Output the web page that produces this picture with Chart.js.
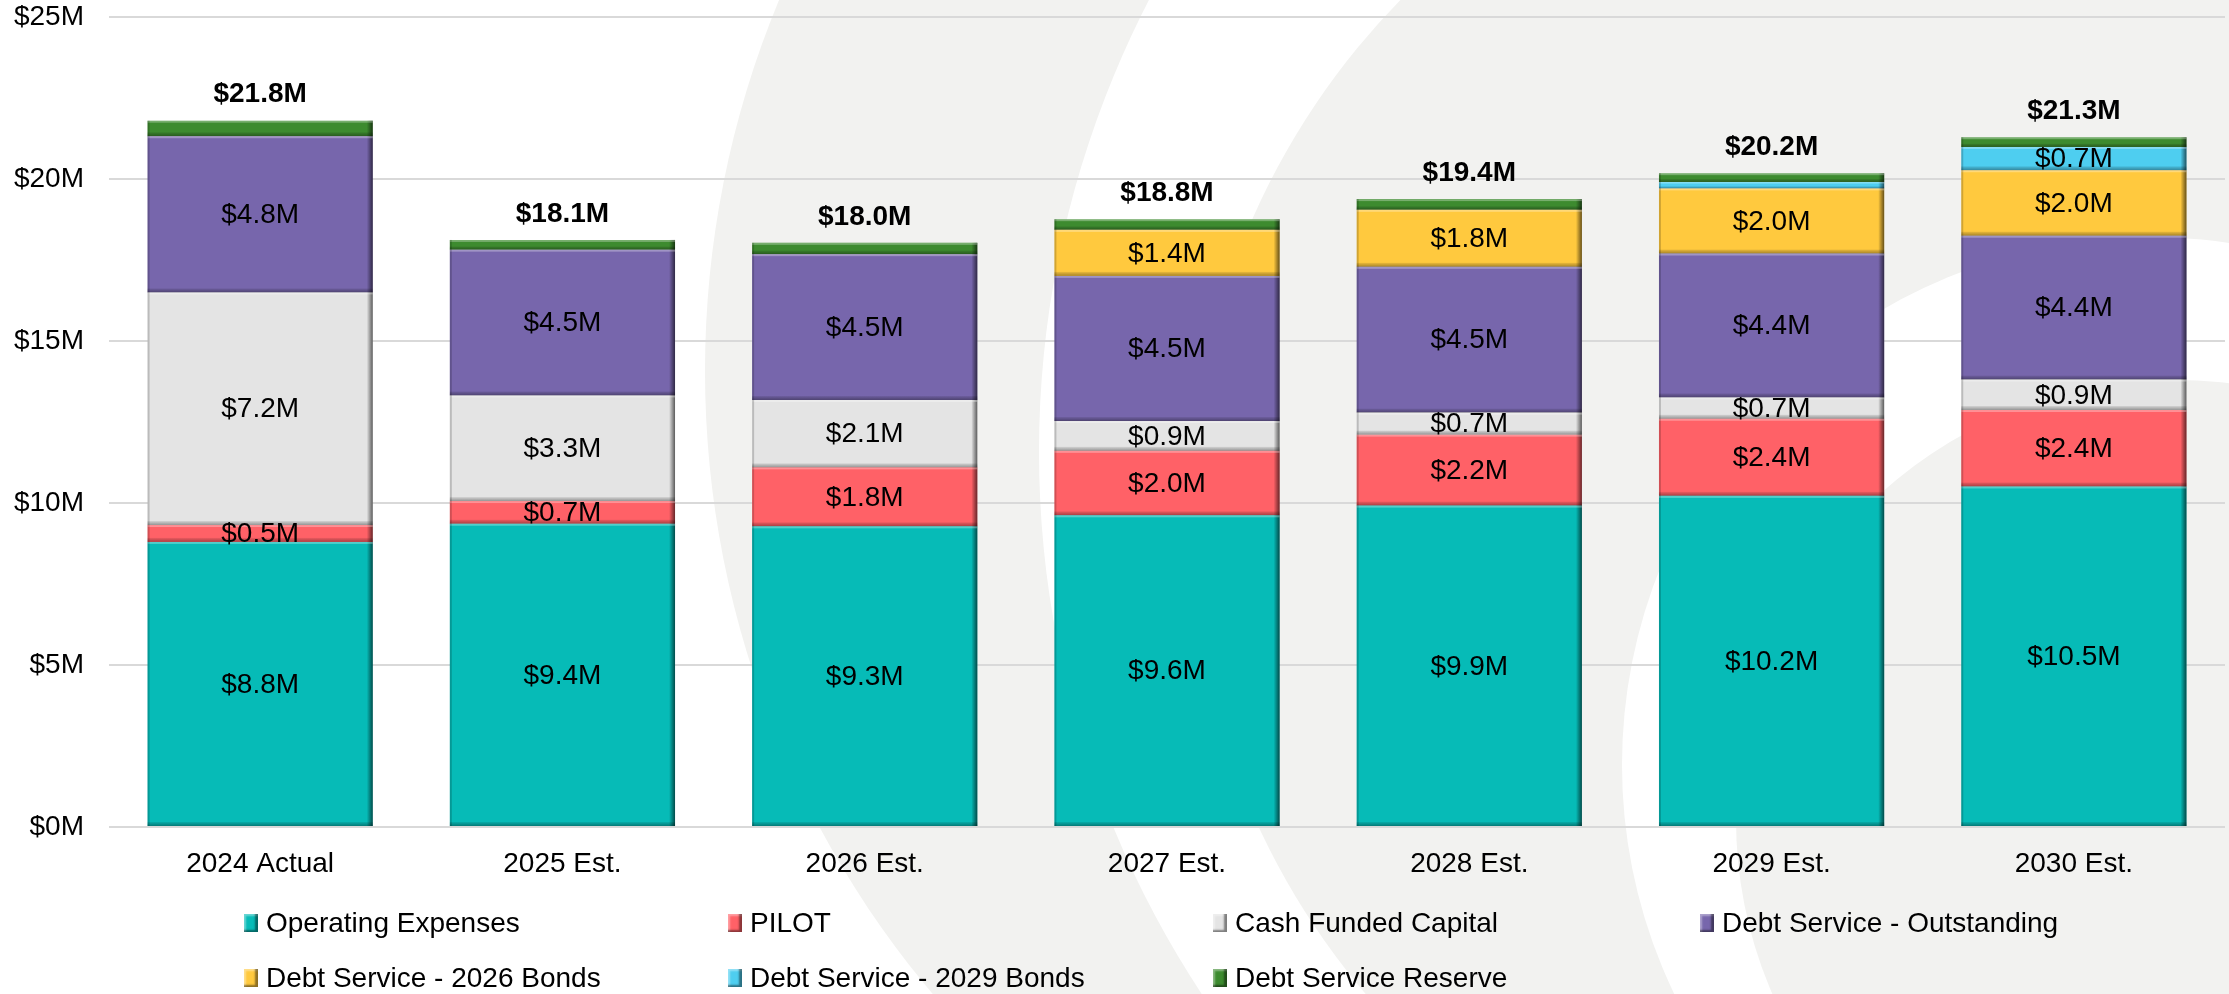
<!DOCTYPE html>
<html>
<head>
<meta charset="utf-8">
<script src="https://cdn.jsdelivr.net/npm/chart.js@4.4.1/dist/chart.umd.min.js"></script>
<style>
  body { margin: 0; background: #fff; }
  #wrap { position: relative; width: 2229px; height: 994px; }
  #legend { position: absolute; left: 0; top: 0; width: 100%; height: 100%; pointer-events: none;
            font-family: "Liberation Sans", Arial, sans-serif; font-size: 28px; color: #000; }
  .lg-item { position: absolute; display: flex; align-items: center; white-space: nowrap; }
  .lg-box { width: 14px; height: 18px; margin-right: 8px; box-sizing: border-box; }
</style>
</head>
<body>
<div id="wrap">
  <canvas id="chart"></canvas>
  <div id="legend"></div>
</div>
<script>
// --- DATA ---
const categories = ['2024 Actual', '2025 Est.', '2026 Est.', '2027 Est.', '2028 Est.', '2029 Est.', '2030 Est.'];
const opex            = [8.80, 9.36, 9.28, 9.62, 9.92, 10.22, 10.51];
const pilot           = [0.52, 0.70, 1.82, 1.99, 2.19, 2.38, 2.36];
const cashCapital     = [7.18, 3.26, 2.08, 0.92, 0.68, 0.66, 0.94];
const debtOutstanding = [4.82, 4.50, 4.50, 4.48, 4.50, 4.44, 4.44];
const bonds2026       = [0, 0, 0, 1.42, 1.76, 2.01, 2.02];
const bonds2029       = [0, 0, 0, 0, 0, 0.20, 0.72];
const reserve         = [0.48, 0.30, 0.35, 0.33, 0.33, 0.27, 0.30];
const yTicks = [0, 5, 10, 15, 20, 25];

const seriesNames = ['Operating Expenses', 'PILOT', 'Cash Funded Capital', 'Debt Service - Outstanding',
                     'Debt Service - 2026 Bonds', 'Debt Service - 2029 Bonds', 'Debt Service Reserve'];
const seriesData = [opex, pilot, cashCapital, debtOutstanding, bonds2026, bonds2029, reserve];
const seriesColors = ['#06BBB7', '#FF6167', '#E4E4E4', '#7766AC', '#FFC93E', '#4ECEF0', '#3D8B2F'];

const FONT = '"Liberation Sans", Arial, sans-serif';
const GRAY_BG = '#F2F2F0';

// --- PLUGINS ---
// watermark arcs behind the chart
const backdrop = {
    id: 'backdrop',
    beforeDraw(chart) {
        const ctx = chart.ctx;
        const circle = (x, y, r, c) => { ctx.beginPath(); ctx.arc(x, y, r, 0, Math.PI * 2); ctx.fillStyle = c; ctx.fill(); };
        ctx.save();
        ctx.fillStyle = '#fff';
        ctx.fillRect(0, 0, chart.width, chart.height);
        circle(1671, 371, 966, GRAY_BG);
        circle(2023, 452, 984, '#fff');
        circle(1928, 516, 738, GRAY_BG);
        circle(2150, 765, 528, '#fff');
        circle(2175, 819, 439, GRAY_BG);
        ctx.restore();
    }
};

// bevel shading on every bar segment
const bevel = {
    id: 'bevel',
    afterDatasetsDraw(chart) {
        const ctx = chart.ctx;
        ctx.save();
        chart.data.datasets.forEach((ds, i) => {
            chart.getDatasetMeta(i).data.forEach((el, j) => {
                if (!ds.data[j]) return;
                const p = el.getProps(['x', 'y', 'base', 'width'], true);
                const l = p.x - p.width / 2, r = p.x + p.width / 2;
                const t = Math.min(p.y, p.base), b = Math.max(p.y, p.base);
                const h = b - t;
                if (h < 1) return;
                // right edge dark
                let g = ctx.createLinearGradient(r - 6, 0, r, 0);
                g.addColorStop(0, 'rgba(0,0,0,0)');
                g.addColorStop(1, 'rgba(0,0,0,0.6)');
                ctx.fillStyle = g;
                ctx.fillRect(r - 6, t, 6, h);
                // bottom edge dark
                const bh = Math.min(4, h / 3);
                g = ctx.createLinearGradient(0, b - bh, 0, b);
                g.addColorStop(0, 'rgba(0,0,0,0.08)');
                g.addColorStop(1, 'rgba(0,0,0,0.35)');
                ctx.fillStyle = g;
                ctx.fillRect(l, b - bh, p.width, bh);
                // top highlight
                ctx.fillStyle = 'rgba(255,255,255,0.3)';
                ctx.fillRect(l, t, p.width, Math.min(2, h / 4));
                // left edge slight shade
                ctx.fillStyle = 'rgba(0,0,0,0.18)';
                ctx.fillRect(l, t, 2, h);
            });
        });
        ctx.restore();
    }
};

// value labels inside segments + totals on top
const valueLabels = {
    id: 'valueLabels',
    afterDatasetsDraw(chart) {
        const ctx = chart.ctx;
        ctx.save();
        ctx.textAlign = 'center';
        ctx.textBaseline = 'middle';
        ctx.fillStyle = '#000';
        ctx.font = '28px ' + FONT;
        chart.data.datasets.forEach((ds, i) => {
            if (i === chart.data.datasets.length - 1) return; // reserve not labelled
            chart.getDatasetMeta(i).data.forEach((el, j) => {
                const v = ds.data[j];
                if (v < 0.3) return;
                const p = el.getProps(['x', 'y', 'base'], true);
                ctx.fillText('$' + v.toFixed(1) + 'M', p.x, (p.y + p.base) / 2 + 1);
            });
        });
        ctx.font = 'bold 28px ' + FONT;
        const yScale = chart.scales.y;
        const xScale = chart.scales.x;
        categories.forEach((c, j) => {
            const total = seriesData.reduce((s, arr) => s + arr[j], 0);
            const top = yScale.getPixelForValue(total);
            ctx.fillText('$' + total.toFixed(1) + 'M', xScale.getPixelForValue(j), top - 26);
        });
        ctx.restore();
    }
};

// --- CHART ---
Chart.defaults.font.family = FONT;
Chart.defaults.color = '#000';

const chart = new Chart(document.getElementById('chart'), {
    type: 'bar',
    data: {
        labels: categories,
        datasets: seriesData.map((d, i) => ({
            label: seriesNames[i],
            data: d,
            backgroundColor: seriesColors[i],
            borderWidth: 0,
            barPercentage: 0.745,
            categoryPercentage: 1
        }))
    },
    options: {
        responsive: true,
        maintainAspectRatio: false,
        animation: false,
        layout: { padding: { top: 17, right: 4, left: 0, bottom: 0 } },
        plugins: { legend: { display: false }, tooltip: { enabled: false } },
        scales: {
            x: {
                stacked: true,
                grid: { display: false },
                border: { display: false },
                ticks: { font: { size: 28 }, padding: 12, color: '#000' },
                afterFit: s => { s.height = 167; }
            },
            y: {
                stacked: true,
                min: 0, max: 25,
                afterBuildTicks: s => { s.ticks = yTicks.map(v => ({ value: v })); },
                grid: { color: '#D9D9D9', lineWidth: 2, drawTicks: false },
                border: { display: false },
                ticks: { font: { size: 28 }, padding: 25, color: '#000', callback: v => '$' + v + 'M' },
                afterFit: s => { s.width = 109; s.paddingTop = 0; s.paddingBottom = 0; }
            }
        }
    },
    plugins: [backdrop, bevel, valueLabels]
});

// --- LEGEND (fixed column grid like the original) ---
const legendCols = [244, 728, 1213, 1700];
const legendRows = [923, 978];
const legendEl = document.getElementById('legend');
chart.data.datasets.forEach((ds, i) => {
    const item = document.createElement('div');
    item.className = 'lg-item';
    item.style.left = legendCols[i % 4] + 'px';
    item.style.top = (legendRows[Math.floor(i / 4)] - 17) + 'px';
    item.style.height = '34px';
    const box = document.createElement('span');
    box.className = 'lg-box';
    box.style.background = ds.backgroundColor;
    box.style.boxShadow = 'inset -3px -2px 2px rgba(0,0,0,0.45), inset 2px 2px 2px rgba(255,255,255,0.4)';
    const txt = document.createElement('span');
    txt.textContent = ds.label;
    item.appendChild(box);
    item.appendChild(txt);
    legendEl.appendChild(item);
});
</script>
</body>
</html>
